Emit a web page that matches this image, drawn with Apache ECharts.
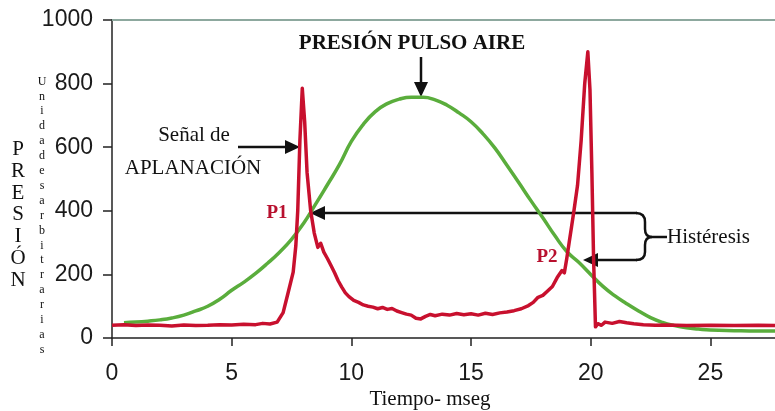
<!DOCTYPE html>
<html>
<head>
<meta charset="utf-8">
<script src="https://cdn.jsdelivr.net/npm/echarts@6/dist/echarts.min.js"></script>
<style>
  html, body { margin: 0; padding: 0; background: #fff; }
  #main { width: 775px; height: 411px; }
</style>
</head>
<body>
<div id="main"></div>
<script>
// valores (tiempo en mseg, presion en unidades arbitrarias)
var pulsoAire = [
  [0.5, 48], [1, 50], [1.5, 53], [2, 57], [2.5, 63], [3, 72], [3.5, 85], [4, 100],
  [4.5, 122], [5, 150], [5.5, 175], [6, 203], [6.5, 235], [7, 270], [7.5, 310],
  [8, 360], [8.5, 420], [9, 482], [9.5, 545], [10, 618], [10.5, 672], [11, 712],
  [11.5, 737], [12, 751], [12.5, 757], [13, 757], [13.5, 749], [14, 732], [14.5, 708],
  [15, 680], [15.5, 642], [16, 597], [16.5, 543], [17, 488], [17.5, 432], [18, 378],
  [18.5, 322], [19, 272], [19.5, 238], [20, 200], [20.5, 163], [21, 133], [21.5, 108],
  [22, 85], [22.5, 64], [23, 49], [23.5, 39], [24, 32], [24.5, 28], [25, 25],
  [26, 23], [27, 22], [27.7, 22]
];

var aplanacion = [
  [0, 40], [0.5, 42], [1, 39], [1.5, 41], [2, 40], [2.5, 38], [3, 41], [3.5, 39],
  [4, 40], [4.5, 42], [5, 41], [5.5, 43], [6, 42], [6.3, 46], [6.6, 44], [6.9, 50],
  [7.15, 80], [7.35, 140], [7.57, 207], [7.68, 290], [7.76, 400], [7.85, 620],
  [7.95, 785], [8.05, 680], [8.15, 520], [8.3, 400], [8.45, 330], [8.6, 285],
  [8.72, 298], [8.85, 270], [9, 250], [9.15, 228], [9.3, 205], [9.45, 180],
  [9.6, 160], [9.75, 142], [9.9, 130], [10.1, 118], [10.3, 112], [10.5, 104],
  [10.7, 100], [10.9, 97], [11.1, 92], [11.3, 96], [11.5, 90], [11.7, 93],
  [11.9, 85], [12.1, 80], [12.3, 75], [12.5, 72], [12.7, 62], [12.9, 60],
  [13.1, 68], [13.3, 74], [13.5, 70], [13.8, 75], [14.1, 72], [14.4, 77],
  [14.7, 73], [15, 76], [15.3, 72], [15.6, 78], [15.9, 74], [16.2, 79],
  [16.5, 82], [16.8, 86], [17.1, 92], [17.4, 102], [17.6, 112], [17.8, 128],
  [18, 134], [18.2, 148], [18.4, 162], [18.6, 190], [18.8, 212], [18.9, 205],
  [19, 250], [19.1, 300], [19.2, 350], [19.3, 400], [19.45, 480], [19.6, 620],
  [19.75, 800], [19.88, 900], [19.97, 780], [20.05, 520], [20.12, 250],
  [20.2, 35], [20.3, 45], [20.45, 40], [20.6, 50], [20.9, 46], [21.2, 52],
  [21.5, 48], [21.8, 45], [22.2, 42], [22.7, 40], [23.2, 41], [24, 39],
  [25, 40], [26, 39], [27, 40], [27.7, 39]
];

var ejeX = { min: 0, max: 27.7, interval: 5 };
var ejeY = { min: 0, max: 1000, interval: 200 };

var letrasPresion = ['P', 'R', 'E', 'S', 'I', 'Ó', 'N'];
var letrasUnidades = 'Unidadesarbitrarias'.split('');

var serif = '"Liberation Serif", "DejaVu Serif", serif';
var trazo = { stroke: '#111', lineWidth: 2.5 };

function flecha(x1, y1, x2, y2) {
  // linea con punta triangular en (x2, y2)
  var ang = Math.atan2(y2 - y1, x2 - x1);
  var L = 15, W = 7;
  var bx = x2 - L * Math.cos(ang), by = y2 - L * Math.sin(ang);
  var px = -Math.sin(ang) * W, py = Math.cos(ang) * W;
  return [
    { type: 'line', shape: { x1: x1, y1: y1, x2: bx, y2: by }, style: trazo },
    { type: 'polygon', shape: { points: [[x2, y2], [bx + px, by + py], [bx - px, by - py]] },
      style: { fill: '#111' } }
  ];
}

function curva(x1, y1, cx, cy, x2, y2) {
  return { type: 'bezierCurve', shape: { x1: x1, y1: y1, cpx1: cx, cpy1: cy, x2: x2, y2: y2 },
    style: { stroke: '#111', lineWidth: 2.5, fill: null } };
}

function linea(x1, y1, x2, y2) {
  return { type: 'line', shape: { x1: x1, y1: y1, x2: x2, y2: y2 }, style: trazo };
}

function texto(t, x, y, size, opts) {
  opts = opts || {};
  return {
    type: 'text',
    style: {
      text: t, x: x, y: y,
      font: (opts.bold ? 'bold ' : '') + size + 'px ' + serif,
      fill: opts.color || '#111',
      textAlign: opts.align || 'left',
      textVerticalAlign: opts.valign || 'middle',
      lineHeight: opts.lineHeight
    }
  };
}

// llave de histeresis
var llave = [
  curva(636, 213, 645, 213, 645, 222),
  linea(645, 222, 645, 229),
  curva(645, 229, 645, 237, 652, 237),
  linea(652, 237, 667, 237),
  curva(652, 237, 645, 237, 645, 245),
  linea(645, 245, 645, 252),
  curva(645, 252, 645, 260, 636, 260)
];

var graficos = []
  .concat(flecha(421, 57, 421, 97))
  .concat(flecha(238, 147, 300, 147))
  .concat(flecha(637, 213, 310, 213))
  .concat(flecha(637, 260, 583, 260))
  .concat(llave)
  .concat([
    texto('PRESIÓN PULSO AIRE', 412, 44, 21, { bold: true, align: 'center' }),
    texto('Señal de', 194, 135, 21, { align: 'center' }),
    texto('APLANACIÓN', 193, 168, 21, { align: 'center' }),
    texto('P1', 277, 213, 19, { bold: true, align: 'center', color: '#b8102e' }),
    texto('P2', 547, 257, 19, { bold: true, align: 'center', color: '#b8102e' }),
    texto('Histéresis', 667, 237, 21),
    texto('Tiempo- mseg', 430, 399, 21, { align: 'center' }),
    texto(letrasPresion.join('\n'), 18, 139, 21, { align: 'center', valign: 'top', lineHeight: 21.7 }),
    texto(letrasUnidades.join('\n'), 42, 74, 12, { align: 'center', valign: 'top', lineHeight: 14.9 })
  ]);

var chart = echarts.init(document.getElementById('main'));
chart.setOption({
  backgroundColor: '#fff',
  animation: false,
  grid: { left: 112, right: 0, top: 20, bottom: 73 },
  xAxis: [{
    type: 'value', min: ejeX.min, max: ejeX.max, interval: ejeX.interval,
    axisLine: { onZero: false, lineStyle: { color: '#222', width: 1.5 } },
    axisTick: { show: true, length: 8, lineStyle: { color: '#222', width: 1.5 } },
    axisLabel: { margin: 24, fontSize: 23, color: '#1a1a1a', fontFamily: '"Liberation Sans", Arial, sans-serif', showMaxLabel: false },
    splitLine: { show: false }
  }, {
    type: 'value', position: 'top', min: ejeX.min, max: ejeX.max,
    axisLine: { show: true, onZero: false, lineStyle: { color: '#8da89e', width: 2 } },
    axisTick: { show: false }, axisLabel: { show: false }, splitLine: { show: false }
  }],
  yAxis: {
    type: 'value', min: ejeY.min, max: ejeY.max, interval: ejeY.interval,
    axisLine: { show: true, lineStyle: { color: '#222', width: 1.5 } },
    axisTick: { show: true, length: 9, lineStyle: { color: '#222', width: 1.5 } },
    axisLabel: { margin: 19, fontSize: 23, color: '#1a1a1a', fontFamily: '"Liberation Sans", Arial, sans-serif',
      formatter: function (v) { return String(v); } },
    splitLine: { show: false }
  },
  series: [{
    name: 'Presión pulso aire', type: 'line', data: pulsoAire, smooth: true,
    showSymbol: false, lineStyle: { color: '#5aad3c', width: 3.5 }
  }, {
    name: 'Señal de aplanación', type: 'line', data: aplanacion,
    showSymbol: false, lineStyle: { color: '#c8102e', width: 3.5, join: 'round' }
  }],
  graphic: graficos
});
</script>
</body>
</html>
